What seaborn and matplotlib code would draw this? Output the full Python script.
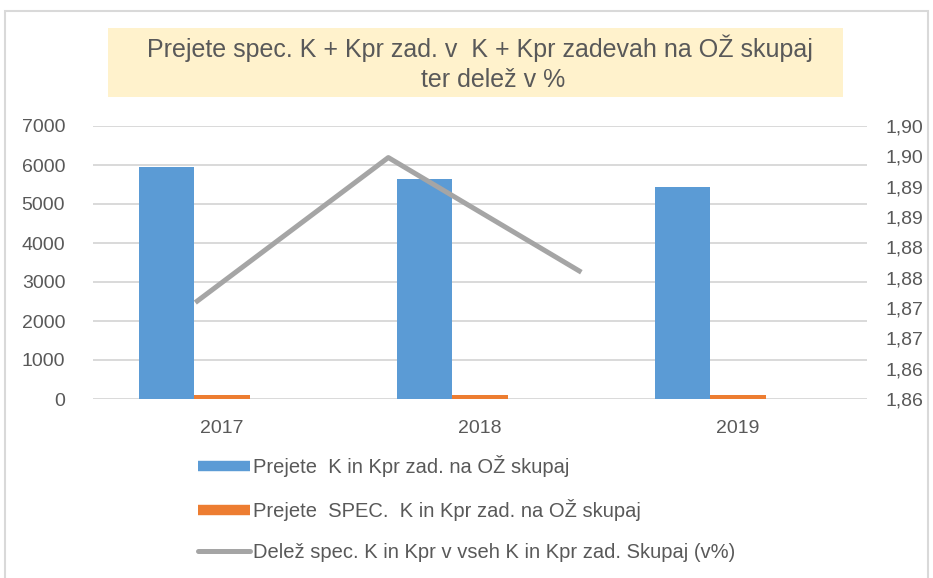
import numpy as np
import pandas as pd
import matplotlib
matplotlib.use("Agg")
import matplotlib.pyplot as plt
import seaborn as sns
from matplotlib.lines import Line2D
from matplotlib.patches import Rectangle

# data
years = ["2017", "2018", "2019"]
total_cases = [5940, 5640, 5440]          # Prejete K in Kpr zad. na OŽ skupaj
spec_cases = [100, 100, 100]              # Prejete SPEC. K in Kpr zad. na OŽ skupaj
share_pct = [1.8759, 1.8998, 1.8809]      # Delež spec. ... (v%)
left_ticks = [0, 1000, 2000, 3000, 4000, 5000, 6000, 7000]
right_ticks = [1.860, 1.865, 1.870, 1.875, 1.880, 1.885, 1.890, 1.895, 1.900, 1.905]
right_labels = ["1,86", "1,86", "1,87", "1,87", "1,88", "1,88", "1,89", "1,89", "1,90", "1,90"]

name_total = "Prejete  K in Kpr zad. na OŽ skupaj"
name_spec = "Prejete  SPEC.  K in Kpr zad. na OŽ skupaj"
name_share = "Delež spec. K in Kpr v vseh K in Kpr zad. Skupaj (v%)"
title_1 = "Prejete spec. K + Kpr zad. v  K + Kpr zadevah na OŽ skupaj"
title_2 = "ter delež v %"

blue = "#5B9BD5"
orange = "#ED7D31"
gray = "#A5A5A5"
text_col = "#595959"
grid_col = "#D9D9D9"

sns.set_style("white")
plt.rcParams["font.family"] = ["Liberation Sans", "DejaVu Sans"]

df = pd.DataFrame({
    "year": years * 3,
    "series": [name_total] * 3 + [name_spec] * 3 + ["_gap"] * 3,
    "value": total_cases + spec_cases + [0] * 3,
})

fig = plt.figure(figsize=(9.33, 5.78), dpi=100)
ax = fig.add_axes([93 / 933, 1 - 399 / 578, 774 / 933, 273 / 578])

sns.barplot(data=df, x="year", y="value", hue="series",
            hue_order=[name_total, name_spec, "_gap"],
            palette=[blue, orange, "white"], width=0.64, saturation=1,
            linewidth=0, legend=False, ax=ax)
ax.set_ylim(0, 7000)
ax.set_xlim(-0.5, 2.5)
ax.set_yticks(left_ticks)
ax.yaxis.grid(True, color=grid_col, linewidth=1.4)
ax.set_axisbelow(True)
for s in ax.spines.values():
    s.set_visible(False)
ax.set_xlabel("")
ax.set_ylabel("")
ax.tick_params(axis="y", length=0, pad=20, labelsize=14, labelcolor=text_col)
ax.tick_params(axis="x", length=0, pad=15, labelsize=14, labelcolor=text_col)

# secondary axes for the share line (own category axis, like Excel)
ax2 = fig.add_axes(ax.get_position(), frameon=False)
line_x = np.arange(len(years))
sns.lineplot(x=line_x, y=share_pct, color=gray, linewidth=3.6,
             solid_capstyle="butt", ax=ax2)
ax2.set_xlim(-0.53, 3.48)
ax2.set_ylim(1.86, 1.905)
ax2.set_xticks([])
ax2.yaxis.tick_right()
ax2.set_yticks(right_ticks, right_labels)
ax2.tick_params(axis="y", length=0, pad=13, labelsize=14, labelcolor=text_col)
ax2.set_xlabel("")
ax2.set_ylabel("")

# title box
fig.patches.append(Rectangle((108 / 933, 1 - 97 / 578), 735 / 933, 69 / 578,
                             transform=fig.transFigure, facecolor="#FFF2CC",
                             edgecolor="none", zorder=0))
fig.text(480 / 933, 1 - 48 / 578, title_1, ha="center", va="center",
         fontsize=18, color=text_col)
fig.text(493 / 933, 1 - 80 / 578, title_2, ha="center", va="center",
         fontsize=18, color=text_col)

# outer chart border
fig.patches.append(Rectangle((5 / 933, -0.01), 923 / 933, 1.01 - 11 / 578,
                             transform=fig.transFigure, facecolor="none",
                             edgecolor=grid_col, linewidth=1.5, zorder=0))

handles = [
    Line2D([], [], color=blue, linewidth=7.5, solid_capstyle="butt"),
    Line2D([], [], color=orange, linewidth=7.5, solid_capstyle="butt"),
    Line2D([], [], color=gray, linewidth=3.6, solid_capstyle="round"),
]
fig.legend(handles, [name_total, name_spec, name_share],
           loc="upper left", bbox_to_anchor=(198 / 933, 1 - 455 / 578),
           frameon=False, fontsize=14.5, labelcolor=text_col,
           handlelength=2.6, handletextpad=0.15, labelspacing=1.1,
           borderpad=0, borderaxespad=0)

fig.savefig("out.png", dpi=100)
